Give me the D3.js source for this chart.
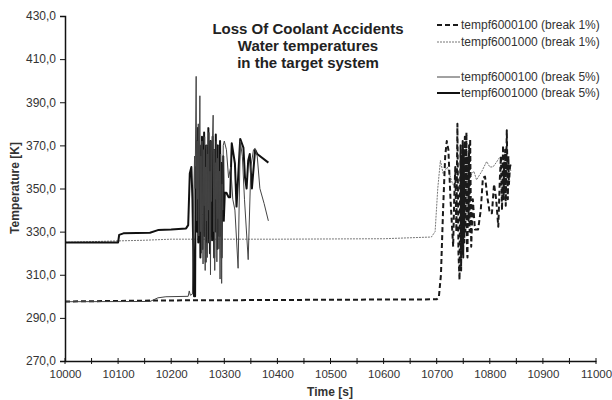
<!DOCTYPE html>
<html><head><meta charset="utf-8">
<script src="https://cdn.jsdelivr.net/npm/d3@7"></script>
<style>body{margin:0;background:#fff;} text{font-family:"Liberation Sans",Arial,sans-serif;}</style>
</head><body>
<svg id="c" width="612" height="400"></svg>
<script>
// Data (time [s], temperature [K])
const dash1Time = [10000,10200,10400,10600,10700,10704,10708,10712,10716,10719,10722,10726,10731,10733,10735,10737,10739,10741,10743,10744,10745,10746,10747,10748,10749,10750,10751,10752,10753,10754,10756,10757,10758,10759,10760,10761,10762,10763,10765,10768,10772,10778,10783,10787,10791,10796,10800,10804,10808,10812,10816,10819,10821,10823,10825,10826,10827,10828,10829,10830,10832,10834,10835,10836,10838,10840];
const dash1Temp = [297.6,298.1,298.3,298.5,298.6,299.5,310,340,365,372,368,345,323,345,360,330,380,320,307.6,350,370,312,365,320,372,318,368,325,374,330,376,322,318,365,335,370,330,373,323,345,331,331,340,355,355.5,345,338.5,338.5,352,345,332.3,355,365,340,370,345,362,350,368,342,377,345,365,352,360,362];

const dot1Time = [10000,10100,10150,10200,10400,10600,10690,10697,10702,10707,10712,10720,10730,10740,10750,10760,10770,10775,10785,10794,10800,10806,10812,10819,10825,10830,10835,10840];
const dot1Temp = [325,325.7,326,326.5,326.5,326.7,327.5,330,350,363,357,360,352,350,356,355,358,354,358,362.5,360,360,362,364.6,360,358,361,358];

const thin5Time = [10000,10160,10175,10190,10232,10234,10236,10240,10242,10244,10245,10247,10248,10249,10250,10251,10252,10254,10255,10256,10257,10258,10259,10260,10261,10262,10263,10264,10265,10266,10267,10268,10269,10270,10271,10272,10273,10274,10275,10276,10277,10279,10280,10281,10282,10283,10284,10285,10286,10287,10288,10289,10290,10291,10292,10293,10294,10295,10296,10297,10298,10300,10304,10308,10312,10316,10320,10326,10330,10334,10338,10345,10350,10355,10358,10362,10367,10375,10383];
const thin5Temp = [297.5,297.6,299.3,299.8,300,302.5,300.5,301,340,365,350,402,335,372,345,380,328,393,330,365,320,372,338,315,368,342,374,312,360,335,370,318,366,340,376,325,358,310,372,344,366,384,330,368,312,362,345,372,316,364,336,370,322,358,308,366,345,306,352,340,370,372,368,355,360,345,340,313,372,365,345,317,360,368,368.6,365,350,343,335];

const thick5Time = [10000,10100,10102,10110,10160,10175,10200,10228,10232,10235,10238,10240,10243,10245,10246,10247,10248,10249,10250,10251,10252,10253,10254,10255,10256,10257,10258,10259,10260,10261,10262,10263,10264,10265,10266,10267,10268,10269,10270,10271,10272,10273,10274,10275,10276,10277,10278,10279,10280,10281,10282,10283,10284,10285,10286,10287,10288,10289,10290,10291,10292,10293,10294,10295,10296,10297,10298,10299,10301,10304,10308,10311,10314,10320,10323,10330,10336,10339,10342,10345,10348,10352,10358,10362,10383];
const thick5Temp = [325,325,328.5,329.2,329.5,330.7,331,331.5,333,357,360,345,300,300,360,338,372,330,378,325,368,335,370,318,362,340,374,322,366,332,376,328,360,316,370,338,365,325,378,334,362,320,372,342,366,326,374,336,368,318,364,340,375,330,360,322,370,338,366,328,372,345,362,318,358,340,365,335,348,348,346,346,371,361.6,341.6,373,369,355,350,363,366,350,368,366,362];

const yTicks = [270,290,310,330,350,370,390,410,430];
const xTicks = [10000,10100,10200,10300,10400,10500,10600,10700,10800,10900,11000];
const seriesNames = ["tempf6000100 (break 1%)","tempf6001000 (break 1%)","tempf6000100 (break 5%)","tempf6001000 (break 5%)"];
const titleLines = ["Loss Of Coolant Accidents","Water temperatures","in the target system"];

const svg = d3.select("#c");
const x = d3.scaleLinear().domain([10000,11000]).range([65,596]);
const y = d3.scaleLinear().domain([270,430]).range([361,16]);

const styles = [
  {stroke:"#1a1a1a", width:2, dash:"5,3"},
  {stroke:"#777", width:1, dash:"2,1"},
  {stroke:"#444", width:1, dash:null},
  {stroke:"#111", width:2, dash:null}
];
const data = [
  d3.zip(dash1Time,dash1Temp),
  d3.zip(dot1Time,dot1Temp),
  d3.zip(thin5Time,thin5Temp),
  d3.zip(thick5Time,thick5Temp)
];
const line = d3.line().x(d=>x(d[0])).y(d=>y(d[1]));
const order = [1,0,3,2];
order.forEach(i=>{
  svg.append("path").datum(data[i]).attr("d",line).attr("fill","none")
    .attr("stroke",styles[i].stroke).attr("stroke-width",styles[i].width)
    .attr("stroke-dasharray",styles[i].dash).attr("stroke-linejoin","round");
});

// Axes
const yAxis = d3.axisLeft(y).tickValues(yTicks).tickFormat(d=>d3.format(".1f")(d).replace(".",",")).tickSize(5).tickPadding(4);
const gy = svg.append("g").attr("transform","translate(65,0)").call(yAxis);
gy.select(".domain").attr("stroke","#111").attr("stroke-width",1.5);
gy.selectAll("text").attr("font-size",12).attr("fill","#333").style("font-family","Liberation Sans, Arial, sans-serif");
gy.selectAll(".tick line").attr("stroke","#111");

const xAxis = d3.axisBottom(x).tickValues(xTicks).tickFormat(d3.format("d")).tickSize(0).tickPadding(9);
const gx = svg.append("g").attr("transform","translate(0,361)").call(xAxis);
gx.select(".domain").attr("stroke","#111").attr("stroke-width",1.5);
gx.selectAll("text").attr("font-size",11.5).attr("fill","#333").style("font-family","Liberation Sans, Arial, sans-serif");
svg.append("g").selectAll("line").data(d3.range(10000,11001,50)).join("line")
  .attr("x1",d=>x(d)).attr("x2",d=>x(d)).attr("y1",358).attr("y2",364)
  .attr("stroke","#111").attr("stroke-width",1);

svg.append("text").attr("x",330).attr("y",396).attr("text-anchor","middle")
  .attr("font-size",12).attr("font-weight","bold").attr("fill","#333").text("Time [s]");
svg.append("text").attr("transform","translate(19,188) rotate(-90)").attr("text-anchor","middle")
  .attr("font-size",12).attr("font-weight","bold").attr("fill","#333").text("Temperature [K]");

// Title
svg.append("g").selectAll("text").data(titleLines).join("text")
  .attr("x",308).attr("y",(d,i)=>33.5+i*17).attr("text-anchor","middle")
  .attr("font-size",15).attr("font-weight","bold").attr("fill","#222").text(d=>d);

// Legend
const legY = [25,42,77,93];
const lg = svg.append("g");
seriesNames.forEach((n,i)=>{
  lg.append("line").attr("x1",437).attr("x2",460).attr("y1",legY[i]).attr("y2",legY[i])
    .attr("stroke",styles[i].stroke).attr("stroke-width",styles[i].width).attr("stroke-dasharray",styles[i].dash);
  lg.append("text").attr("x",461).attr("y",legY[i]+4).attr("font-size",12).attr("fill","#333").text(n);
});
</script>
</body></html>
